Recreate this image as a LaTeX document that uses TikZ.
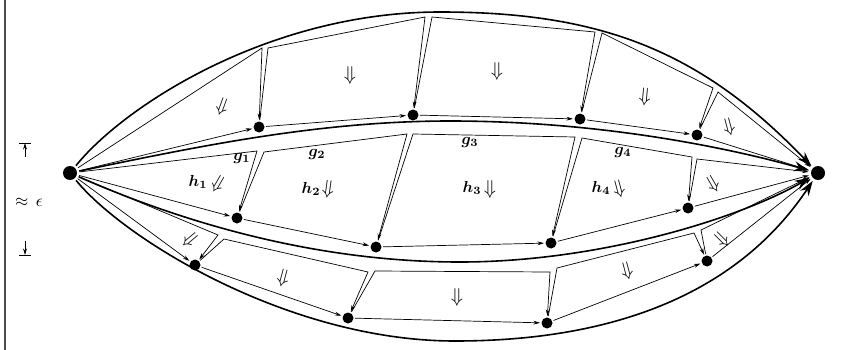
\documentclass[tikz,border=0pt]{standalone}
\usetikzlibrary{arrows.meta}
\begin{document}
\begin{tikzpicture}[x=1pt,y=-1pt,
  dotn/.style={circle, fill=black, inner sep=0pt, minimum size=11pt, outer sep=1.5pt},
  bigdotn/.style={circle, fill=black, inner sep=0pt, minimum size=14pt, outer sep=2.5pt},
  thinarr/.style={line width=0.7pt, -{Stealth[length=6.5pt,width=3.8pt]}},
  thickarr/.style={line width=1.6pt, -{Stealth[length=15pt,width=10pt]}},
  dn/.style={scale=2.0, inner sep=0pt},
  lab/.style={scale=1.6, font=\boldmath, inner sep=0pt},
]
\useasboundingbox (0,0) rectangle (850,350);
% left frame line
\coordinate (f1) at (5,0); \coordinate (f2) at (5,350);
\draw[line width=1.2pt, black!70] (f1) -- (f2);
% epsilon marker
\coordinate (et) at (25,143); \coordinate (etl) at (19,143); \coordinate (etr) at (31,143);
\coordinate (es) at (25,157);
\coordinate (eb) at (25,255); \coordinate (ebl) at (19,255); \coordinate (ebr) at (31,255);
\coordinate (es2) at (25,241);
\draw[thinarr] (es) -- (et); \draw[line width=0.9pt] (etl) -- (etr);
\draw[thinarr] (es2) -- (eb); \draw[line width=0.9pt] (ebl) -- (ebr);
\node[scale=1.7] (eps) at (29,202) {$\approx\,\epsilon$};

% main nodes
\node[bigdotn] (L) at (70,173) {};
\node[bigdotn] (R) at (818,173) {};
\node[dotn] (T1) at (259,127) {};
\node[dotn] (T2) at (413,115) {};
\node[dotn] (T3) at (580,119) {};
\node[dotn] (T4) at (697,135) {};
\node[dotn] (M1) at (237,218) {};
\node[dotn] (M2) at (376,247) {};
\node[dotn] (M3) at (551,243) {};
\node[dotn] (M4) at (688,208) {};
\node[dotn] (B1) at (195,265) {};
\node[dotn] (B2) at (348,318) {};
\node[dotn] (B3) at (547,323) {};
\node[dotn] (B4) at (707,261) {};

% corners
\coordinate (t0) at (262,48);
\coordinate (t1a) at (268,48); \coordinate (t1b) at (425,17);
\coordinate (t2a) at (432,17); \coordinate (t2b) at (595,32);
\coordinate (t3a) at (602,33); \coordinate (t3b) at (713,88);
\coordinate (t4a) at (718,92);
\coordinate (m0) at (257,151);
\coordinate (m1a) at (264,152); \coordinate (m1b) at (407,134);
\coordinate (m2a) at (413,134); \coordinate (m2b) at (575,137);
\coordinate (m3a) at (582,138); \coordinate (m3b) at (692,157);
\coordinate (m4a) at (697,159);
\coordinate (b0) at (218,235);
\coordinate (b1a) at (224,239); \coordinate (b1b) at (368,272);
\coordinate (b2a) at (375,271); \coordinate (b2b) at (550,272);
\coordinate (b3a) at (557,268); \coordinate (b3b) at (694,233);
\coordinate (b4a) at (701,230);

% thick curves
\coordinate (p1) at (440,12);
\coordinate (p2) at (450,121);
\coordinate (p3) at (460,262);
\coordinate (p4) at (455,341);
\draw[thickarr] (L) .. controls (125,105) and (270,12) .. (p1) .. controls (600,12) and (700,50) .. (R);
\draw[thickarr] (L) .. controls (200,146) and (320,121) .. (p2) .. controls (600,121) and (730,148) .. (R);
\draw[thickarr] (L) .. controls (200,230) and (330,262) .. (p3) .. controls (600,262) and (740,218) .. (R);
\draw[thickarr] (L) .. controls (125,240) and (290,341) .. (p4) .. controls (620,341) and (740,290) .. (R);

% top row
\draw[thinarr] (L) -- (T1);
\draw[thinarr] (T1) -- (T2);
\draw[thinarr] (T2) -- (T3);
\draw[thinarr] (T3) -- (T4);
\draw[thinarr] (T4) -- (R);
\draw[thinarr] (L) -- (t0) -- (T1);
\draw[thinarr] (T1) -- (t1a) -- (t1b) -- (T2);
\draw[thinarr] (T2) -- (t2a) -- (t2b) -- (T3);
\draw[thinarr] (T3) -- (t3a) -- (t3b) -- (T4);
\draw[thinarr] (T4) -- (t4a) -- (R);
% middle row
\draw[thinarr] (L) -- (M1);
\draw[thinarr] (M1) -- (M2);
\draw[thinarr] (M2) -- (M3);
\draw[thinarr] (M3) -- (M4);
\draw[thinarr] (M4) -- (R);
\draw[thinarr] (L) -- (m0) -- (M1);
\draw[thinarr] (M1) -- (m1a) -- (m1b) -- (M2);
\draw[thinarr] (M2) -- (m2a) -- (m2b) -- (M3);
\draw[thinarr] (M3) -- (m3a) -- (m3b) -- (M4);
\draw[thinarr] (M4) -- (m4a) -- (R);
% bottom row
\draw[thinarr] (L) -- (B1);
\draw[thinarr] (B1) -- (B2);
\draw[thinarr] (B2) -- (B3);
\draw[thinarr] (B3) -- (B4);
\draw[thinarr] (B4) -- (R);
\draw[thinarr] (L) -- (b0) -- (B1);
\draw[thinarr] (B1) -- (b1a) -- (b1b) -- (B2);
\draw[thinarr] (B2) -- (b2a) -- (b2b) -- (B3);
\draw[thinarr] (B3) -- (b3a) -- (b3b) -- (B4);
\draw[thinarr] (B4) -- (b4a) -- (R);

% 2-cell arrows, top
\node[dn, rotate=-20] (dt0) at (222,107) {$\Downarrow$};
\node[dn] (dt1) at (350,76) {$\Downarrow$};
\node[dn] (dt2) at (497,72) {$\Downarrow$};
\node[dn, rotate=-5] (dt3) at (645,97) {$\Downarrow$};
\node[dn, rotate=15] (dt4) at (729,127) {$\Downarrow$};
% middle
\node[lab] (g1) at (242,158) {$g_1$};
\node[lab] (g2) at (317,154) {$g_2$};
\node[lab] (g3) at (470,142) {$g_3$};
\node[lab] (g4) at (623,152) {$g_4$};
\node[lab] (h1) at (198,182) {$h_1$};
\node[lab] (h2) at (311,189) {$h_2$};
\node[lab] (h3) at (472,188) {$h_3$};
\node[lab] (h4) at (601,188) {$h_4$};
\node[dn, rotate=-30] (dm0) at (218,184) {$\Downarrow$};
\node[dn, rotate=-8] (dm1) at (328,189) {$\Downarrow$};
\node[dn] (dm2) at (490,189) {$\Downarrow$};
\node[dn, rotate=15] (dm3) at (619,189) {$\Downarrow$};
\node[dn, rotate=30] (dm4) at (713,184) {$\Downarrow$};
% bottom
\node[dn, rotate=-50] (db0) at (190,240) {$\Downarrow$};
\node[dn, rotate=-15] (db1) at (283,278) {$\Downarrow$};
\node[dn] (db2) at (457,297) {$\Downarrow$};
\node[dn, rotate=15] (db3) at (627,271) {$\Downarrow$};
\node[dn, rotate=45] (db4) at (722,240) {$\Downarrow$};
\end{tikzpicture}
\end{document}
